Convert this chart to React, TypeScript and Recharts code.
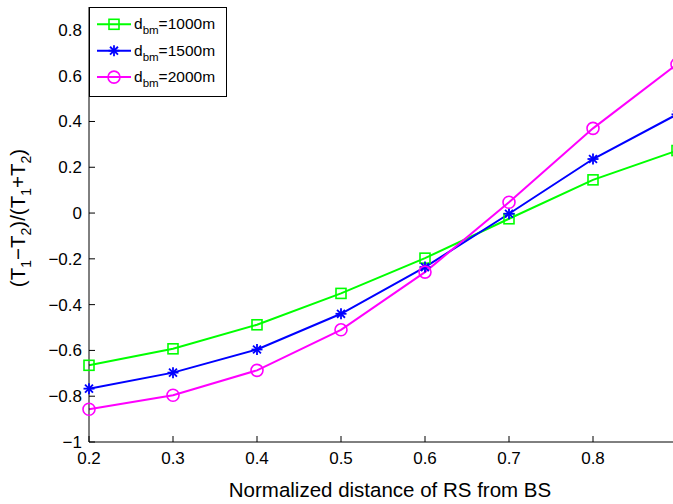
import { LineChart, Line, XAxis, YAxis, Legend } from 'recharts';

// normalized RS distance (0.9 lies just past the visible right edge)
const distances = [0.2, 0.3, 0.4, 0.5, 0.6, 0.7, 0.8, 0.9];
const ratio1000 = [-0.665, -0.593, -0.488, -0.351, -0.197, -0.025, 0.145, 0.273];
const ratio1500 = [-0.767, -0.697, -0.596, -0.44, -0.236, -0.003, 0.236, 0.431];
const ratio2000 = [-0.857, -0.796, -0.687, -0.51, -0.258, 0.047, 0.37, 0.65];

const xTicks = [0.2, 0.3, 0.4, 0.5, 0.6, 0.7, 0.8];
const yTicks = [-1, -0.8, -0.6, -0.4, -0.2, 0, 0.2, 0.4, 0.6, 0.8];
const seriesNames = ['1000m', '1500m', '2000m'];

const data = distances.map((d, i) => ({
  d,
  r1000: ratio1000[i],
  r1500: ratio1500[i],
  r2000: ratio2000[i],
}));

const FONT = '"Liberation Sans", Arial, Helvetica, sans-serif';
const GREEN = '#00ff00';
const BLUE = '#0000ff';
const MAGENTA = '#ff00ff';

const fmt = (v: number) => String(v).replace('-', '\u2212');

type Shape = 'square' | 'star' | 'circle';

function Marker({ cx, cy, color, shape }: { cx: number; cy: number; color: string; shape: Shape }) {
  if (shape === 'square') {
    return <rect x={cx - 5} y={cy - 5} width={10} height={10} fill="none" stroke={color} strokeWidth={1.6} />;
  }
  if (shape === 'circle') {
    return <circle cx={cx} cy={cy} r={6} fill="none" stroke={color} strokeWidth={1.6} />;
  }
  const r = 5.5;
  const q = r * 0.72;
  return (
    <g stroke={color} strokeWidth={1.8}>
      <line x1={cx} y1={cy - r} x2={cx} y2={cy + r} />
      <line x1={cx - r} y1={cy} x2={cx + r} y2={cy} />
      <line x1={cx - q} y1={cy - q} x2={cx + q} y2={cy + q} />
      <line x1={cx - q} y1={cy + q} x2={cx + q} y2={cy - q} />
    </g>
  );
}

const dotFor = (color: string, shape: Shape) => (p: any) => (
  <Marker key={`${shape}-${p.index}`} cx={p.cx} cy={p.cy} color={color} shape={shape} />
);

const BottomTick = (p: any) => (
  <g>
    <line x1={p.x} y1={p.y} x2={p.x} y2={p.y - 6} stroke="#000" />
    <text x={p.x} y={p.y + 22} textAnchor="middle" fontSize={17} fontFamily={FONT} fill="#000">
      {fmt(p.payload.value)}
    </text>
  </g>
);

const TopTick = (p: any) => <line x1={p.x} y1={p.y} x2={p.x} y2={p.y + 6} stroke="#000" />;

const LeftTick = (p: any) => (
  <g>
    <line x1={p.x} y1={p.y} x2={p.x + 6} y2={p.y} stroke="#000" />
    <text x={p.x - 7} y={p.y + 6} textAnchor="end" fontSize={17} fontFamily={FONT} fill="#000">
      {fmt(p.payload.value)}
    </text>
  </g>
);

const YTitle = () => (
  <text transform="translate(25, 218) rotate(-90)" textAnchor="middle" fontSize={20.5} fontFamily={FONT} fill="#000">
    (T<tspan dy={6} fontSize={14}>1</tspan>
    <tspan dy={-6}>{'\u2212'}T</tspan>
    <tspan dy={6} fontSize={14}>2</tspan>
    <tspan dy={-6}>)/(T</tspan>
    <tspan dy={6} fontSize={14}>1</tspan>
    <tspan dy={-6}>+T</tspan>
    <tspan dy={6} fontSize={14}>2</tspan>
    <tspan dy={-6}>)</tspan>
  </text>
);

const XTitle = () => (
  <text x={390} y={497} textAnchor="middle" fontSize={20.5} fontFamily={FONT} fill="#000">
    Normalized distance of RS from BS
  </text>
);

const legendStyle: [string, Shape][] = [
  [GREEN, 'square'],
  [BLUE, 'star'],
  [MAGENTA, 'circle'],
];

const LegendBox = () => (
  <svg width={136} height={88} style={{ display: 'block', background: '#fff', border: '1px solid #000' }}>
    {seriesNames.map((name, i) => {
      const y = 16.3 + i * 26.4;
      const [color, shape] = legendStyle[i];
      return (
        <g key={name}>
          <line x1={7} y1={y} x2={41} y2={y} stroke={color} strokeWidth={2} />
          <Marker cx={24} cy={y} color={color} shape={shape} />
          <text x={44} y={y + 5} fontSize={15.5} fontFamily={FONT} fill="#000">
            d<tspan dy={5} fontSize={11.5}>bm</tspan>
            <tspan dy={-5}>={name}</tspan>
          </text>
        </g>
      );
    })}
  </svg>
);

export default function App() {
  return (
    <div style={{ position: 'absolute', left: 0, top: 0, width: 673, height: 504, overflow: 'hidden', background: '#fff' }}>
      <LineChart width={700} height={504} data={data} margin={{ top: 7, right: 23, bottom: 0, left: 0 }}>
        <XAxis
          dataKey="d"
          type="number"
          domain={[0.2, 0.9]}
          ticks={xTicks}
          tick={BottomTick}
          tickLine={false}
          tickSize={0}
          tickMargin={0}
          height={62}
          axisLine={{ stroke: '#000' }}
          label={<XTitle />}
        />
        <XAxis
          xAxisId="top"
          orientation="top"
          dataKey="d"
          type="number"
          domain={[0.2, 0.9]}
          allowDataOverflow
          ticks={xTicks}
          tick={TopTick}
          tickLine={false}
          tickSize={0}
          tickMargin={0}
          height={0}
          axisLine={{ stroke: '#000' }}
        />
        <YAxis
          type="number"
          domain={[-1, 0.9]}
          ticks={yTicks}
          tick={LeftTick}
          tickLine={false}
          tickSize={0}
          tickMargin={0}
          width={89}
          axisLine={{ stroke: '#000' }}
          label={<YTitle />}
        />
        <Legend
          layout="horizontal"
          align="center"
          verticalAlign="middle"
          content={<LegendBox />}
          wrapperStyle={{ left: 89, top: 7, width: 138, height: 90 }}
        />
        <Line dataKey="r1000" name={seriesNames[0]} stroke={GREEN} strokeWidth={2} dot={dotFor(GREEN, 'square')} isAnimationActive={false} />
        <Line dataKey="r1500" name={seriesNames[1]} stroke={BLUE} strokeWidth={2} dot={dotFor(BLUE, 'star')} isAnimationActive={false} />
        <Line dataKey="r2000" name={seriesNames[2]} stroke={MAGENTA} strokeWidth={2} dot={dotFor(MAGENTA, 'circle')} isAnimationActive={false} />
      </LineChart>
    </div>
  );
}
